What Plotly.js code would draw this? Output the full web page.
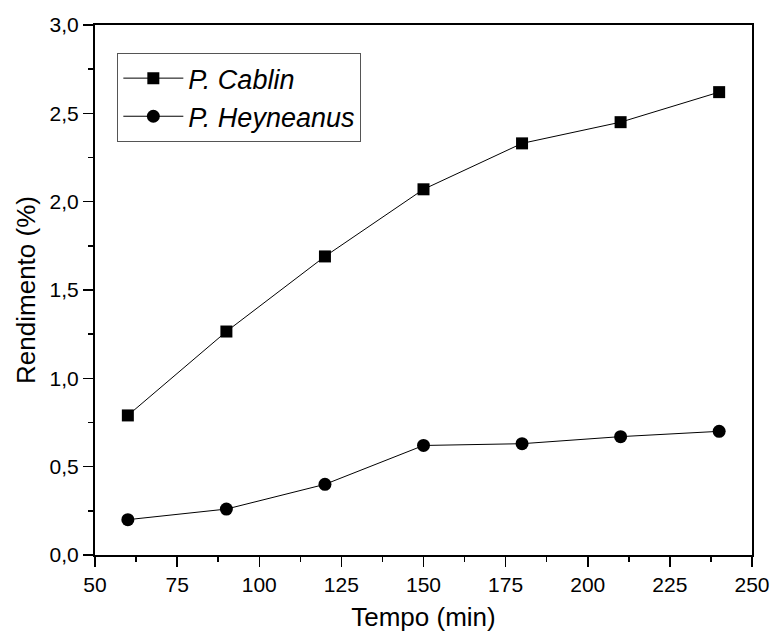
<!DOCTYPE html>
<html>
<head>
<meta charset="utf-8">
<script src="https://cdn.plot.ly/plotly-3.0.1.min.js"></script>
<style>
  html, body { margin: 0; padding: 0; background: #fff; }
  #chart { width: 773px; height: 637px; }
</style>
</head>
<body>
<div id="chart"></div>
<script>
// Extraction time (min) and yield (%) for the two Pogostemon species
const tempo = [60, 90, 120, 150, 180, 210, 240];
const cablin = [0.79, 1.265, 1.69, 2.07, 2.33, 2.45, 2.62];
const heyneanus = [0.20, 0.26, 0.40, 0.62, 0.63, 0.67, 0.70];
const seriesNames = ['P. Cablin', 'P. Heyneanus'];
const xTicks = [50, 75, 100, 125, 150, 175, 200, 225, 250];
const yTicks = [0, 0.5, 1.0, 1.5, 2.0, 2.5, 3.0];
const yTickText = ['0,0', '0,5', '1,0', '1,5', '2,0', '2,5', '3,0'];

const FONT = 'Arial, "Liberation Sans", sans-serif';

const traces = [
  {
    x: tempo, y: cablin, name: '<i>' + seriesNames[0] + '</i>',
    type: 'scatter', mode: 'lines+markers',
    line: { color: '#000', width: 1 },
    marker: { symbol: 'square', size: 12, color: '#000' }
  },
  {
    x: tempo, y: heyneanus, name: '<i>' + seriesNames[1] + '</i>',
    type: 'scatter', mode: 'lines+markers',
    line: { color: '#000', width: 1 },
    marker: { symbol: 'circle', size: 13, color: '#000' }
  }
];

const axisCommon = {
  showline: true, linecolor: '#000', linewidth: 2, mirror: true,
  showgrid: false, zeroline: false,
  ticks: 'outside', ticklen: 10, tickwidth: 1.5, tickcolor: '#000',
  tickfont: { family: FONT, size: 21, color: '#000' }
};

const layout = {
  width: 773, height: 637,
  margin: { l: 95, r: 21, t: 25, b: 82 },
  paper_bgcolor: '#fff', plot_bgcolor: '#fff',
  showlegend: true,
  legend: {
    x: 0.034, y: 0.947, xanchor: 'left', yanchor: 'top',
    bordercolor: '#555', borderwidth: 1, bgcolor: 'rgba(255,255,255,0)',
    font: { family: FONT, size: 27, color: '#000' },
    itemwidth: 60, tracegroupgap: 0
  },
  xaxis: Object.assign({}, axisCommon, {
    range: [50, 250], tickmode: 'array', tickvals: xTicks,
    minor: { dtick: 12.5, ticks: 'outside', ticklen: 5, tickwidth: 1.5, tickcolor: '#000' },
    title: { text: 'Tempo (min)', font: { family: FONT, size: 26, color: '#000' }, standoff: 13 }
  }),
  yaxis: Object.assign({}, axisCommon, {
    range: [0, 3.0], tickmode: 'array', tickvals: yTicks, ticktext: yTickText,
    minor: { dtick: 0.25, ticks: 'outside', ticklen: 5, tickwidth: 1.5, tickcolor: '#000' },
    title: { text: 'Rendimento (%)', font: { family: FONT, size: 26, color: '#000' }, standoff: 6 }
  })
};

Plotly.newPlot('chart', traces, layout, { displayModeBar: false, staticPlot: true });
</script>
</body>
</html>
